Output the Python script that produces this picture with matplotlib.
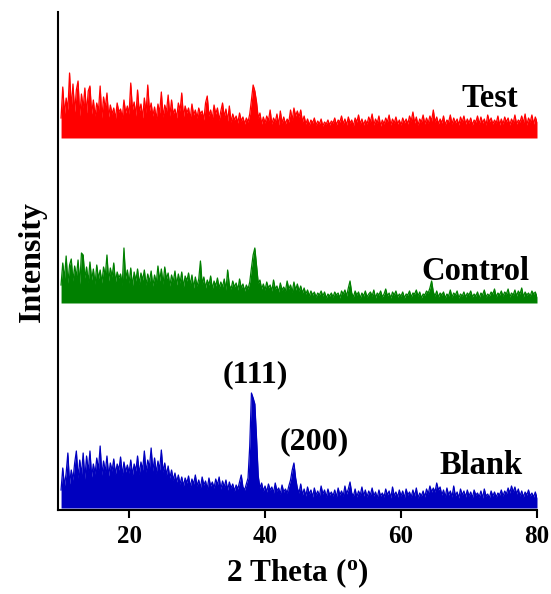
import numpy as np
import matplotlib
matplotlib.use("Agg")
import matplotlib.pyplot as plt

# Scan grid (degrees 2-theta), 0.25 degree step from 10 to 80
two_theta = np.linspace(10, 80, 281)

# Diffracted intensity (a.u.) for each sample on the scan grid
test_counts = [
    20, 51, 24, 40, 28, 65, 30, 54, 26, 48, 57, 22, 44, 30, 50, 25, 47, 52, 24, 38,
    22, 35, 27, 52, 20, 41, 30, 45, 21, 33, 24, 30, 19, 35, 26, 29, 20, 38, 25, 32,
    24, 55, 28, 36, 22, 48, 26, 34, 20, 40, 25, 53, 27, 35, 22, 31, 19, 34, 25, 46,
    21, 33, 26, 43, 22, 38, 24, 29, 20, 35, 27, 45, 21, 32, 25, 30, 19, 34, 23, 28,
    20, 30, 24, 27, 18, 35, 42, 22, 28, 19, 33, 24, 30, 18, 27, 35, 21, 29, 17, 32,
    16, 24, 18, 22, 15, 25, 17, 21, 14, 20, 16, 24, 38, 53, 47, 36, 20, 25, 14, 21,
    15, 22, 17, 28, 14, 20, 16, 24, 13, 27, 15, 21, 14, 19, 16, 28, 18, 30, 22, 27,
    21, 28, 16, 22, 14, 19, 13, 18, 15, 20, 13, 17, 14, 19, 12, 16, 14, 18, 13, 17,
    15, 20, 13, 18, 16, 22, 14, 19, 13, 21, 15, 18, 12, 20, 16, 23, 14, 19, 13, 18,
    14, 21, 16, 24, 13, 19, 15, 22, 12, 18, 14, 20, 16, 23, 13, 19, 15, 21, 14, 18,
    13, 20, 15, 19, 14, 22, 17, 26, 15, 21, 13, 19, 16, 23, 14, 20, 15, 22, 17, 28,
    16, 21, 14, 19, 15, 22, 13, 18, 16, 23, 14, 20, 15, 19, 13, 21, 16, 22, 14, 19,
    15, 20, 13, 18, 16, 22, 14, 21, 15, 19, 13, 23, 16, 20, 14, 18, 15, 22, 13, 19,
    14, 21, 16, 20, 13, 19, 15, 23, 14, 18, 16, 22, 15, 24, 13, 20, 16, 23, 14, 21,
    16,
]

control_counts = [
    18, 40, 24, 47, 20, 38, 44, 22, 37, 26, 43, 19, 50, 48, 25, 36, 21, 41, 23, 34,
    19, 38, 24, 33, 20, 36, 27, 48, 22, 35, 26, 40, 21, 31, 25, 29, 18, 55, 24, 33,
    20, 35, 17, 31, 22, 34, 19, 30, 23, 33, 18, 29, 21, 32, 17, 28, 20, 37, 22, 34,
    19, 36, 24, 30, 17, 28, 21, 32, 18, 29, 20, 31, 16, 27, 22, 30, 18, 28, 15, 26,
    17, 24, 42, 19, 26, 15, 23, 18, 27, 14, 22, 17, 25, 15, 21, 16, 24, 13, 33, 18,
    14, 22, 16, 20, 13, 24, 15, 19, 12, 18, 14, 21, 35, 48, 55, 38, 20, 23, 14, 19,
    13, 21, 15, 18, 12, 23, 14, 17, 11, 20, 13, 16, 12, 22, 14, 18, 11, 21, 13, 19,
    12, 17, 10, 15, 9, 13, 7, 12, 8, 11, 6, 10, 8, 12, 7, 11, 5, 9, 7, 10,
    6, 11, 8, 10, 5, 12, 9, 13, 7, 15, 22, 10, 6, 12, 8, 11, 5, 10, 7, 12,
    6, 9, 11, 7, 13, 5, 10, 8, 12, 6, 9, 14, 7, 10, 5, 11, 8, 12, 6, 9,
    7, 11, 5, 9, 8, 12, 6, 10, 9, 13, 7, 11, 5, 9, 8, 12, 10, 15, 22, 11,
    7, 12, 6, 10, 8, 11, 5, 9, 7, 13, 6, 10, 8, 12, 5, 9, 7, 11, 6, 10,
    8, 12, 6, 9, 7, 11, 5, 10, 8, 13, 6, 9, 7, 11, 9, 14, 6, 10, 8, 12,
    7, 11, 9, 14, 6, 10, 8, 13, 7, 12, 9, 15, 6, 11, 8, 10, 7, 12, 9, 11,
    6,
]

blank_counts = [
    18, 40, 22, 35, 55, 24, 38, 28, 45, 57, 30, 48, 33, 55, 29, 52, 36, 57, 31, 44,
    34, 50, 38, 62, 33, 47, 36, 52, 32, 45, 37, 49, 34, 44, 38, 51, 33, 46, 36, 43,
    35, 48, 33, 44, 37, 52, 34, 46, 38, 57, 36, 48, 40, 60, 37, 50, 35, 47, 38, 58,
    36, 45, 33, 42, 30, 38, 28, 35, 26, 33, 24, 31, 22, 30, 25, 32, 21, 29, 24, 33,
    22, 28, 20, 31, 23, 27, 19, 30, 22, 26, 20, 29, 23, 31, 19, 27, 21, 28, 18, 26,
    20, 24, 17, 23, 19, 26, 33, 21, 18, 24, 30, 62, 115, 110, 104, 70, 32, 20, 25, 17,
    22, 16, 24, 18, 21, 15, 25, 17, 20, 14, 23, 16, 19, 15, 22, 28, 38, 45, 30, 20,
    15, 24, 13, 19, 12, 21, 14, 18, 11, 20, 13, 17, 12, 22, 14, 18, 11, 19, 13, 16,
    12, 18, 11, 20, 13, 17, 12, 22, 14, 19, 26, 15, 12, 19, 11, 17, 13, 21, 12, 18,
    11, 17, 13, 20, 12, 16, 10, 18, 12, 15, 11, 19, 13, 17, 10, 21, 12, 16, 11, 18,
    12, 17, 10, 19, 13, 16, 11, 18, 12, 20, 10, 15, 12, 17, 11, 19, 14, 22, 16, 20,
    16, 25, 18, 21, 13, 18, 11, 20, 13, 17, 11, 22, 12, 16, 10, 19, 13, 17, 11, 18,
    12, 16, 10, 18, 13, 15, 11, 17, 10, 19, 12, 14, 10, 17, 12, 16, 11, 15, 13, 18,
    12, 17, 14, 20, 15, 22, 16, 21, 14, 19, 12, 17, 11, 16, 13, 18, 12, 15, 11, 16,
    10,
]

sample_names = ["Blank", "Control", "Test"]
x_ticks = [20, 40, 60, 80]
peak_labels = ["(111)", "(200)"]

# Vertical stacking of the three patterns
offsets = {"Blank": 2, "Control": 207, "Test": 372}
colors = {"Blank": "#0000bf", "Control": "#008000", "Test": "#ff0000"}
series = {"Blank": blank_counts, "Control": control_counts, "Test": test_counts}

plt.rcParams["font.family"] = ["Liberation Serif", "DejaVu Serif"]
plt.rcParams["font.weight"] = "bold"
plt.rcParams["mathtext.fontset"] = "custom"
plt.rcParams["mathtext.rm"] = "Liberation Serif:bold"
plt.rcParams["mathtext.it"] = "Liberation Serif:bold"
plt.rcParams["mathtext.bf"] = "Liberation Serif:bold"

fig = plt.figure(figsize=(5.51, 5.94), dpi=100)
ax = fig.add_axes([58 / 551, 1 - 510 / 594, (537 - 58) / 551, (510 - 12) / 594])

for name in sample_names:
    y = offsets[name] + np.asarray(series[name], dtype=float)
    ax.fill_between(two_theta, offsets[name], y, color=colors[name], lw=0)
    ax.plot(two_theta, y, color=colors[name], lw=0.9)

ax.set_xlim(9.55, 80)
ax.set_ylim(0, 498)
ax.set_xticks(x_ticks)
ax.set_yticks([])
for side in ("top", "right"):
    ax.spines[side].set_visible(False)
for side in ("left", "bottom"):
    ax.spines[side].set_linewidth(1.5)
ax.tick_params(axis="x", direction="out", length=6, width=1.5, pad=5,
               labelsize=18)
for lbl in ax.get_xticklabels():
    lbl.set_fontweight("bold")

ax.set_xlabel(r"2 Theta ($\mathregular{^o}$)", fontsize=22.5, fontweight="bold",
              labelpad=6)
ax.set_ylabel("Intensity", fontsize=23, fontweight="bold", labelpad=8)

label_pos = {"Test": (73.1, 412), "Control": (70.9, 239), "Blank": (71.8, 45)}
for name in sample_names:
    ax.text(*label_pos[name], name, fontsize=23.5, fontweight="bold",
            ha="center", va="center")

peak_pos = [(38.6, 135), (47.3, 68)]
for txt, (px, py) in zip(peak_labels, peak_pos):
    ax.text(px, py, txt, fontsize=23, fontweight="bold", ha="center", va="center")

fig.savefig("out.png", dpi=100)
